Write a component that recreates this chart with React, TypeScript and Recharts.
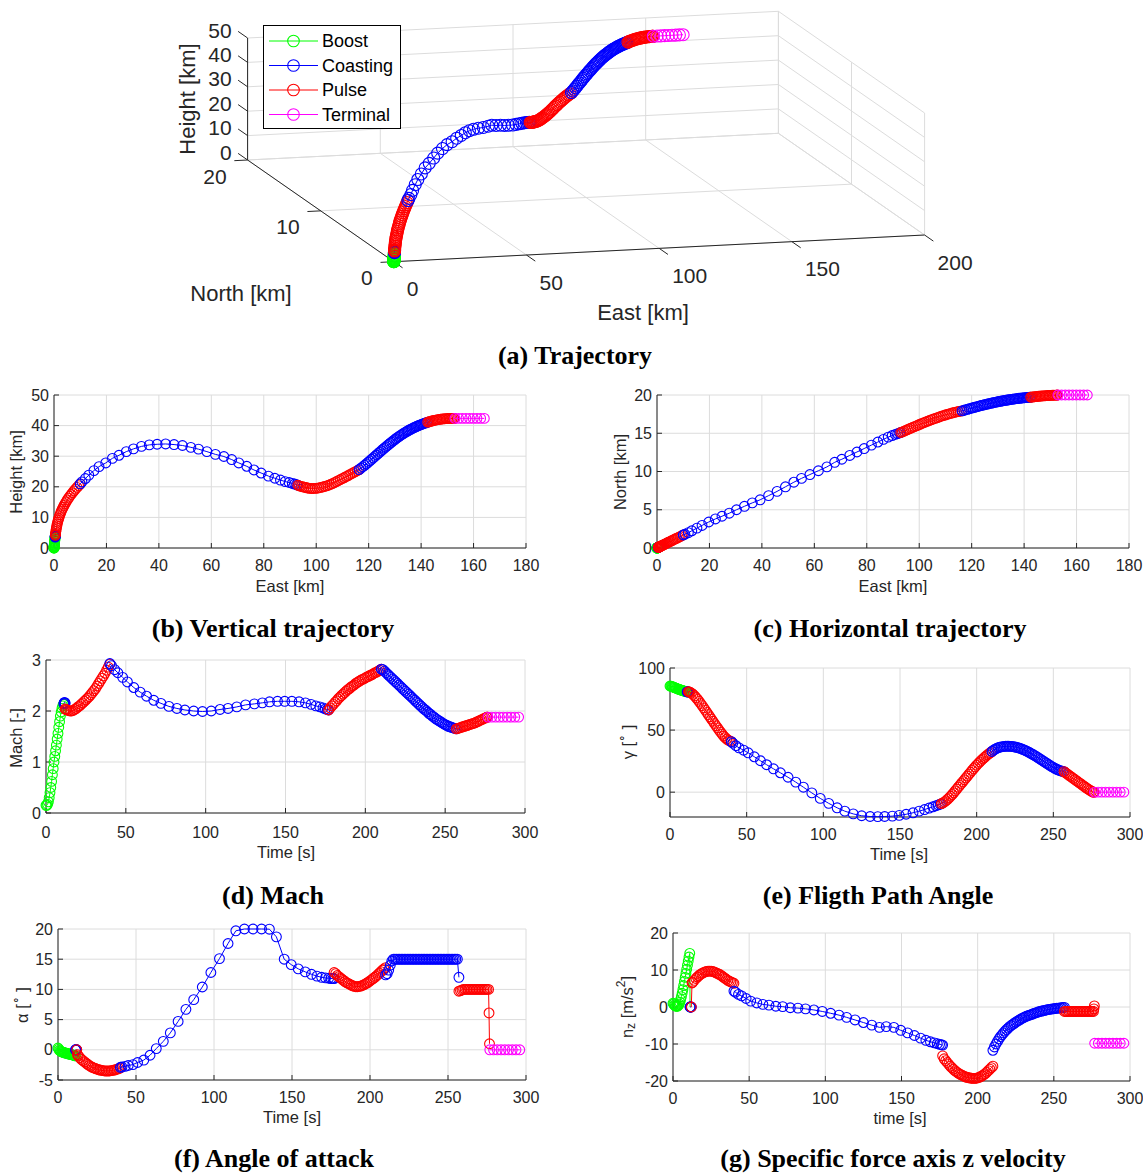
import React from 'react';
import { ScatterChart, Scatter, XAxis, YAxis, CartesianGrid } from 'recharts';

const GREEN = '#00ff00';
const BLUE = '#0000ff';
const RED = '#ff0000';
const MAGENTA = '#ff00ff';
const AXIS = '#262626';
const GRID = '#dcdcdc';
const SANS = '"Liberation Sans", Arial, Helvetica, sans-serif';
const SERIF = '"Liberation Serif", "Times New Roman", Times, serif';

// ---------------- tick labels ----------------
const eastTicks = [0, 20, 40, 60, 80, 100, 120, 140, 160, 180];
const heightTicks = [0, 10, 20, 30, 40, 50];
const northTicks = [0, 5, 10, 15, 20];
const timeTicks = [0, 50, 100, 150, 200, 250, 300];
const machTicks = [0, 1, 2, 3];
const gammaTicks = [0, 50, 100];
const alphaTicks = [-5, 0, 5, 10, 15, 20];
const nzTicks = [-20, -10, 0, 10, 20];
const eastTicks3d = [0, 50, 100, 150, 200];
const northTicks3d = [0, 10, 20];
const heightTicks3d = [0, 10, 20, 30, 40, 50];
const legendNames = ['Boost', 'Coasting', 'Pulse', 'Terminal'];
const legendColors = [GREEN, BLUE, RED, MAGENTA];

// ---------------- Boost ----------------
const boostTime = [0, 0.5, 1, 1.5, 2, 2.5, 3, 3.5, 4, 4.5, 5, 5.5, 6, 6.5, 7, 7.5, 8, 8.5, 9, 9.5, 10, 10.5, 11, 11.2];
const boostMach = [0.15, 0.15, 0.17, 0.22, 0.3, 0.4, 0.5, 0.62, 0.75, 0.87, 1.0, 1.11, 1.22, 1.33, 1.45, 1.56, 1.68, 1.79, 1.9, 1.98, 2.05, 2.1, 2.13, 2.14];
const boostGamma = [85.5, 85.3, 85.1, 84.9, 84.7, 84.5, 84.2, 84.0, 83.7, 83.5, 83.2, 83.0, 82.7, 82.5, 82.3, 82.1, 81.9, 81.7, 81.5, 81.3, 81.1, 81.0, 80.8, 80.8];
const boostAlpha = [0.3, 0.1, -0.1, -0.2, -0.3, -0.35, -0.4, -0.45, -0.5, -0.5, -0.55, -0.6, -0.6, -0.65, -0.7, -0.7, -0.75, -0.8, -0.8, -0.85, -0.9, -0.95, -1.0, -1.0];
const boostNz = [1.0, 0.8, 0.5, 0.3, 0.2, 0.2, 0.2, 0.4, 0.8, 1.3, 2.0, 2.8, 3.7, 4.7, 5.8, 6.9, 8.0, 9.1, 10.2, 11.3, 12.4, 13.5, 14.5, 0];
const boostHeight = [0, 0.01, 0.03, 0.07, 0.12, 0.18, 0.26, 0.36, 0.47, 0.59, 0.73, 0.88, 1.04, 1.22, 1.42, 1.63, 1.85, 2.1, 2.35, 2.62, 2.9, 3.2, 3.5, 3.56];
const boostEast = [0, 0, 0, 0.01, 0.01, 0.02, 0.03, 0.04, 0.06, 0.07, 0.09, 0.11, 0.13, 0.15, 0.17, 0.2, 0.22, 0.25, 0.28, 0.31, 0.35, 0.38, 0.42, 0.43];
const boostNorth = [0, 0, 0, 0, 0, 0, 0.01, 0.01, 0.01, 0.01, 0.02, 0.02, 0.02, 0.03, 0.03, 0.03, 0.04, 0.04, 0.05, 0.05, 0.06, 0.06, 0.07, 0.07];

// ---------------- Coasting 1 ----------------
const coast1Time = [11.2, 11.4, 11.6, 11.8, 12];
const coast1Mach = [2.14, 2.16, 2.17, 2.16, 2.15];
const coast1Gamma = [80.8, 80.8, 80.8, 80.8, 80.8];
const coast1Alpha = [0, 0, 0, 0, 0];
const coast1Nz = [0, 0, 0, 0, 0];
const coast1Height = [3.56, 3.7, 3.85, 4.0, 4.15];
const coast1East = [0.43, 0.45, 0.47, 0.49, 0.51];
const coast1North = [0.07, 0.07, 0.08, 0.08, 0.08];

// ---------------- Pulse 1 ----------------
const pulse1Time = [12, 12.5, 13, 14, 15, 16, 17, 18, 19, 20, 21, 22, 23, 24, 25, 26, 27, 28, 29, 30, 31, 32, 33, 34, 35, 36, 37, 38, 39, 40];
const pulse1Mach = [2.04, 2.03, 2.02, 2.01, 2.0, 2.0, 2.01, 2.03, 2.05, 2.08, 2.1, 2.13, 2.16, 2.19, 2.22, 2.25, 2.28, 2.32, 2.36, 2.4, 2.44, 2.49, 2.54, 2.59, 2.64, 2.69, 2.74, 2.8, 2.86, 2.92];
const pulse1Gamma = [81, 80.8, 80.5, 79.8, 78.8, 77.6, 76.2, 74.7, 73.1, 71.4, 69.7, 67.9, 66.1, 64.3, 62.5, 60.7, 58.9, 57.1, 55.3, 53.5, 51.7, 50, 48.3, 46.7, 45.2, 43.9, 42.8, 41.9, 41.2, 40.7];
const pulse1Alpha = [0, -0.8, -1.0, -1.3, -1.6, -1.8, -2.0, -2.2, -2.4, -2.6, -2.75, -2.9, -3.0, -3.1, -3.2, -3.3, -3.35, -3.4, -3.45, -3.5, -3.5, -3.5, -3.5, -3.45, -3.4, -3.35, -3.3, -3.2, -3.1, -3.0];
const pulse1Nz = [0, 6.5, 6.7, 7.2, 7.7, 8.1, 8.5, 8.8, 9.1, 9.3, 9.5, 9.6, 9.7, 9.7, 9.7, 9.6, 9.5, 9.3, 9.1, 8.9, 8.7, 8.4, 8.1, 7.8, 7.5, 7.2, 7.0, 6.8, 6.6, 6.4];
const pulse1Height = [4.15, 4.46, 4.77, 5.38, 5.99, 6.6, 7.2, 7.81, 8.42, 9.03, 9.64, 10.25, 10.86, 11.47, 12.08, 12.69, 13.3, 13.9, 14.5, 15.1, 15.7, 16.3, 16.89, 17.48, 18.06, 18.64, 19.22, 19.8, 20.38, 20.97];
const pulse1East = [0.51, 0.55, 0.6, 0.7, 0.81, 0.93, 1.07, 1.22, 1.39, 1.58, 1.78, 2.01, 2.26, 2.53, 2.82, 3.14, 3.47, 3.83, 4.22, 4.63, 5.07, 5.53, 6.01, 6.52, 7.05, 7.61, 8.18, 8.78, 9.39, 10.0];
const pulse1North = [0.09, 0.09, 0.1, 0.12, 0.14, 0.16, 0.18, 0.21, 0.24, 0.27, 0.3, 0.34, 0.38, 0.43, 0.48, 0.53, 0.59, 0.65, 0.72, 0.79, 0.86, 0.94, 1.02, 1.11, 1.2, 1.29, 1.39, 1.49, 1.6, 1.7];

// ---------------- Coasting 2 ----------------
const coast2Time = [40, 41, 43, 45, 48, 51, 55, 59, 63, 67.5, 72, 77, 82, 87, 92.5, 98, 103.5, 109, 114, 119.5, 125, 130.5, 135.5, 140, 145, 149.5, 154, 158.5, 162.5, 166, 169, 171.5, 173.5, 175, 176.2, 177];
const coast2Mach = [2.93, 2.89, 2.81, 2.75, 2.66, 2.57, 2.46, 2.37, 2.29, 2.21, 2.15, 2.09, 2.05, 2.02, 2.0, 1.99, 2.0, 2.03, 2.05, 2.08, 2.12, 2.14, 2.16, 2.18, 2.19, 2.19, 2.19, 2.18, 2.16, 2.13, 2.1, 2.08, 2.06, 2.04, 2.03, 2.02];
const coast2Gamma = [40.7, 39.5, 37.4, 35.7, 33.8, 31.7, 28.5, 25.3, 22.1, 18.8, 15.6, 12, 8.1, 4, -0.6, -5, -9, -12.6, -15.3, -17.5, -19, -19.6, -19.7, -19.6, -19.3, -18.7, -17.8, -16.6, -15.3, -14, -12.8, -11.8, -10.9, -10.2, -9.6, -9.2];
const coast2Alpha = [-2.9, -2.85, -2.75, -2.6, -2.45, -2.1, -1.7, -0.9, 0.2, 1.4, 2.8, 4.7, 6.7, 8.3, 10.4, 12.8, 15.1, 17.6, 19.7, 20, 20, 20, 19.97, 18.7, 15, 14.1, 13.4, 12.9, 12.5, 12.2, 12, 11.9, 11.85, 11.8, 11.8, 11.8];
const coast2Nz = [4.3, 4.0, 3.4, 3.0, 2.3, 1.6, 1.1, 0.7, 0.5, 0.2, 0.1, -0.2, -0.3, -0.5, -0.8, -1.2, -1.7, -2.2, -2.8, -3.5, -4.2, -4.9, -5.5, -5.3, -5.5, -6.3, -7.0, -7.7, -8.4, -9.0, -9.4, -9.7, -9.9, -10.1, -10.2, -10.3];
const coast2Height = [20.97, 21.6, 22.7, 23.8, 25.3, 26.6, 27.8, 29.3, 30.3, 31.5, 32.4, 33.2, 33.7, 33.9, 34.0, 33.8, 33.5, 32.9, 32.3, 31.5, 30.6, 29.9, 28.9, 27.8, 26.7, 25.5, 24.5, 23.5, 22.8, 22.2, 21.7, 21.4, 21.1, 20.9, 20.7, 20.5];
const coast2East = [10.0, 10.65, 11.96, 13.27, 15.23, 17.18, 19.74, 22.27, 24.78, 27.57, 30.32, 33.35, 36.34, 39.33, 42.57, 45.79, 48.99, 52.19, 55.1, 58.31, 61.54, 64.79, 67.77, 70.48, 73.51, 76.25, 79.0, 81.77, 84.22, 86.36, 88.17, 89.68, 90.88, 91.78, 92.5, 92.98];
const coast2North = [1.7, 1.8, 2.0, 2.25, 2.6, 2.95, 3.4, 3.8, 4.15, 4.55, 5.0, 5.45, 5.9, 6.3, 6.85, 7.4, 8.0, 8.6, 9.1, 9.6, 10.1, 10.6, 11.2, 11.6, 12.1, 12.55, 13.0, 13.45, 13.85, 14.2, 14.5, 14.7, 14.85, 14.95, 15.05, 15.1];

// ---------------- Pulse 2 ----------------
const pulse2Time = [177, 178, 179, 180, 181, 182, 183, 184, 185, 186, 187, 188, 189, 190, 191, 192, 193, 194, 195, 196, 197, 198, 199, 200, 201, 202, 203, 204, 205, 206, 207, 208, 209, 210];
const pulse2Mach = [2.02, 2.06, 2.1, 2.13, 2.17, 2.2, 2.24, 2.27, 2.3, 2.33, 2.36, 2.39, 2.42, 2.44, 2.47, 2.49, 2.51, 2.54, 2.56, 2.58, 2.6, 2.62, 2.63, 2.65, 2.67, 2.68, 2.7, 2.71, 2.73, 2.75, 2.76, 2.78, 2.8, 2.82];
const pulse2Gamma = [-9.2, -8.6, -7.8, -6.9, -5.8, -4.6, -3.3, -1.9, -0.5, 1.0, 2.5, 4.0, 5.5, 7.0, 8.5, 10, 11.5, 13, 14.5, 16, 17.5, 19, 20.4, 21.8, 23.1, 24.4, 25.6, 26.8, 27.9, 29, 30, 31, 31.9, 32.8];
const pulse2Alpha = [12.8, 12.6, 12.3, 12.1, 11.9, 11.7, 11.5, 11.3, 11.1, 11.0, 10.85, 10.7, 10.6, 10.5, 10.45, 10.45, 10.5, 10.55, 10.65, 10.75, 10.9, 11.05, 11.2, 11.4, 11.6, 11.8, 12.0, 12.2, 12.45, 12.7, 12.95, 13.2, 13.4, 13.6];
const pulse2Nz = [-13.2, -14.0, -14.5, -15, -15.5, -16, -16.4, -16.8, -17.2, -17.5, -17.8, -18.1, -18.3, -18.5, -18.7, -18.9, -19, -19.1, -19.2, -19.25, -19.3, -19.3, -19.25, -19.15, -19.0, -18.8, -18.6, -18.3, -18.0, -17.6, -17.2, -16.8, -16.4, -16.0];
const pulse2Height = [20.5, 20.3, 20.15, 20.0, 19.85, 19.75, 19.6, 19.5, 19.45, 19.45, 19.5, 19.55, 19.65, 19.8, 19.95, 20.1, 20.3, 20.5, 20.75, 21.05, 21.35, 21.65, 22.0, 22.3, 22.65, 22.95, 23.3, 23.6, 23.95, 24.3, 24.6, 24.95, 25.25, 25.6];
const pulse2East = [92.98, 93.59, 94.2, 94.83, 95.47, 96.12, 96.79, 97.47, 98.16, 98.86, 99.57, 100.28, 101.0, 101.73, 102.46, 103.2, 103.94, 104.68, 105.42, 106.16, 106.9, 107.64, 108.38, 109.12, 109.86, 110.59, 111.32, 112.05, 112.77, 113.49, 114.21, 114.92, 115.63, 116.34];
const pulse2North = [15.1, 15.18, 15.27, 15.37, 15.46, 15.56, 15.66, 15.76, 15.86, 15.97, 16.07, 16.17, 16.28, 16.37, 16.47, 16.57, 16.67, 16.77, 16.86, 16.95, 17.04, 17.13, 17.22, 17.3, 17.38, 17.46, 17.53, 17.6, 17.67, 17.73, 17.79, 17.84, 17.89, 17.93];

// ---------------- Coasting 3 ----------------
const coast3Time = [210, 211, 212, 213, 214, 215, 216, 217, 218, 219, 220, 221, 222, 223, 224, 225, 226, 227, 228, 229, 230, 231, 232, 233, 234, 235, 236, 237, 238, 239, 240, 241, 242, 243, 244, 245, 246, 247, 248, 249, 250, 251, 252, 253, 254, 255, 256, 257];
const coast3Mach = [2.82, 2.81, 2.78, 2.75, 2.72, 2.69, 2.66, 2.63, 2.6, 2.57, 2.54, 2.51, 2.48, 2.45, 2.42, 2.39, 2.36, 2.33, 2.3, 2.27, 2.24, 2.21, 2.18, 2.15, 2.12, 2.09, 2.06, 2.03, 2.01, 1.98, 1.95, 1.93, 1.9, 1.88, 1.85, 1.83, 1.81, 1.79, 1.77, 1.75, 1.73, 1.72, 1.7, 1.69, 1.68, 1.67, 1.66, 1.65];
const coast3Gamma = [32.8, 33.8, 34.6, 35.3, 35.8, 36.2, 36.5, 36.7, 36.9, 37.0, 37.0, 37.0, 36.9, 36.8, 36.6, 36.4, 36.1, 35.8, 35.4, 35.0, 34.5, 34.0, 33.4, 32.8, 32.2, 31.5, 30.8, 30.1, 29.4, 28.6, 27.8, 27.0, 26.2, 25.4, 24.6, 23.8, 23.0, 22.2, 21.4, 20.6, 19.9, 19.2, 18.6, 18.0, 17.5, 17.1, 16.8, 16.5];
const coast3Alpha = [12.4, 12.6, 13.2, 14.0, 14.7,
  15, 15, 15, 15, 15, 15, 15, 15, 15, 15,
  15, 15, 15, 15, 15, 15, 15, 15, 15, 15,
  15, 15, 15, 15, 15, 15, 15, 15, 15, 15,
  15, 15, 15, 15, 15, 15, 15, 15, 15, 15,
  15, 15, 12.0];
const coast3Nz = [-11.7, -10.8, -10.0, -9.3, -8.6, -8.0, -7.5, -7.0, -6.5, -6.1, -5.7, -5.3, -5.0, -4.7, -4.4, -4.1, -3.85, -3.6, -3.35, -3.1, -2.9, -2.7, -2.5, -2.35, -2.2, -2.05, -1.9, -1.75, -1.6, -1.45, -1.3, -1.2, -1.1, -1.0, -0.9, -0.8, -0.72, -0.65, -0.58, -0.52, -0.46, -0.4, -0.35, -0.3, -0.25, -0.2, -0.15, -0.1];
const coast3Height = [25.6, 26.07, 26.55, 27.03, 27.52, 28.01, 28.5, 28.98, 29.46, 29.93, 30.4, 30.86, 31.31, 31.76, 32.2, 32.63, 33.05, 33.46, 33.86, 34.25, 34.63, 35.0, 35.36, 35.71, 36.05, 36.38, 36.7, 37.01, 37.3, 37.59, 37.87, 38.14, 38.39, 38.63, 38.86, 39.08, 39.29, 39.49, 39.69, 39.87, 40.05, 40.22, 40.38, 40.54, 40.69, 40.84, 40.98, 41.12];
const coast3East = [116.34, 117.05, 117.75, 118.44, 119.12, 119.79, 120.45, 121.1, 121.74, 122.37, 122.99, 123.6, 124.2, 124.8, 125.39, 125.97, 126.54, 127.11, 127.67, 128.22, 128.77, 129.32, 129.86, 130.4, 130.94, 131.48, 132.01, 132.54, 133.06, 133.58, 134.1, 134.62, 135.13, 135.64, 136.15, 136.66, 137.16, 137.66, 138.16, 138.65, 139.14, 139.63, 140.12, 140.61, 141.09, 141.57, 142.05, 142.53];
const coast3North = [17.93, 18.0, 18.07, 18.13, 18.2, 18.27, 18.33, 18.39, 18.45, 18.51, 18.57, 18.62, 18.67, 18.72, 18.77, 18.82, 18.86, 18.91, 18.95, 18.99, 19.03, 19.07, 19.11, 19.15, 19.18, 19.22, 19.25, 19.28, 19.31, 19.34, 19.37, 19.4, 19.43, 19.46, 19.48, 19.5, 19.53, 19.55, 19.57, 19.59, 19.61, 19.63, 19.64, 19.66, 19.67, 19.69, 19.7, 19.71];

// ---------------- Pulse 3 ----------------
const pulse3Time = [257, 258, 259, 260, 261, 262, 263, 264, 265, 266, 267, 268, 269, 270, 271, 272, 273, 274, 275, 276, 276.3, 276.6];
const pulse3Mach = [1.65, 1.66, 1.67, 1.68, 1.69, 1.7, 1.71, 1.72, 1.73, 1.74, 1.75, 1.76, 1.77, 1.79, 1.8, 1.82, 1.83, 1.85, 1.86, 1.88, 1.88, 1.88];
const pulse3Gamma = [16.5, 15.6, 14.7, 13.8, 12.9, 12.0, 11.1, 10.2, 9.3, 8.4, 7.5, 6.6, 5.7, 4.8, 3.9, 3.0, 2.2, 1.4, 0.7, 0, 0, 0];
const pulse3Alpha = [9.7, 9.8, 9.9, 10, 10, 10, 10, 10, 10, 10, 10, 10, 10, 10, 10, 10, 10, 10, 10, 10, 6.1, 1.0];
const pulse3Nz = [-1.2, -1.2, -1.2, -1.2, -1.2, -1.2, -1.2, -1.2, -1.2, -1.2, -1.2, -1.2, -1.2, -1.2, -1.2, -1.2, -1.2, -1.2, -1.2, -1.2, -0.5, 0.3];
const pulse3Height = [41.12, 41.25, 41.37, 41.48, 41.59, 41.69, 41.79, 41.88, 41.96, 42.03, 42.1, 42.16, 42.21, 42.25, 42.29, 42.32, 42.34, 42.35, 42.36, 42.36, 42.36, 42.36];
const pulse3East = [142.53, 143.0, 143.48, 143.96, 144.45, 144.94, 145.44, 145.94, 146.45, 146.96, 147.48, 148.0, 148.53, 149.06, 149.6, 150.14, 150.69, 151.24, 151.8, 152.36, 152.53, 152.7];
const pulse3North = [19.71, 19.73, 19.75, 19.77, 19.79, 19.81, 19.83, 19.85, 19.86, 19.88, 19.89, 19.91, 19.92, 19.93, 19.94, 19.95, 19.96, 19.97, 19.98, 19.99, 19.99, 20.0];

// ---------------- Terminal ----------------
const terminalTime = [276.8, 279.2, 281.6, 284, 286.4, 288.8, 291.2, 293.6, 296];
const terminalMach = [1.88, 1.88, 1.88, 1.88, 1.88, 1.88, 1.88, 1.88, 1.88];
const terminalGamma = [0, 0, 0, 0, 0, 0, 0, 0, 0];
const terminalAlpha = [0, 0, 0, 0, 0, 0, 0, 0, 0];
const terminalNz = [-9.8, -9.8, -9.8, -9.8, -9.8, -9.8, -9.8, -9.8, -9.8];
const terminalHeight = [42.36, 42.36, 42.36, 42.36, 42.36, 42.36, 42.36, 42.36, 42.36];
const terminalEast = [152.9, 154.3, 155.7, 157.1, 158.5, 159.9, 161.3, 162.7, 164.1];
const terminalNorth = [20, 20, 20, 20, 20, 20, 20, 20, 20];

type VarKey = 'time' | 'east' | 'north' | 'height' | 'mach' | 'gamma' | 'alpha' | 'nz';
type Phase = { id: string; color: string } & Record<VarKey, number[]>;

const phases: Phase[] = [
  { id: 'boost', color: GREEN, time: boostTime, east: boostEast, north: boostNorth, height: boostHeight, mach: boostMach, gamma: boostGamma, alpha: boostAlpha, nz: boostNz },
  { id: 'coast1', color: BLUE, time: coast1Time, east: coast1East, north: coast1North, height: coast1Height, mach: coast1Mach, gamma: coast1Gamma, alpha: coast1Alpha, nz: coast1Nz },
  { id: 'pulse1', color: RED, time: pulse1Time, east: pulse1East, north: pulse1North, height: pulse1Height, mach: pulse1Mach, gamma: pulse1Gamma, alpha: pulse1Alpha, nz: pulse1Nz },
  { id: 'coast2', color: BLUE, time: coast2Time, east: coast2East, north: coast2North, height: coast2Height, mach: coast2Mach, gamma: coast2Gamma, alpha: coast2Alpha, nz: coast2Nz },
  { id: 'pulse2', color: RED, time: pulse2Time, east: pulse2East, north: pulse2North, height: pulse2Height, mach: pulse2Mach, gamma: pulse2Gamma, alpha: pulse2Alpha, nz: pulse2Nz },
  { id: 'coast3', color: BLUE, time: coast3Time, east: coast3East, north: coast3North, height: coast3Height, mach: coast3Mach, gamma: coast3Gamma, alpha: coast3Alpha, nz: coast3Nz },
  { id: 'pulse3', color: RED, time: pulse3Time, east: pulse3East, north: pulse3North, height: pulse3Height, mach: pulse3Mach, gamma: pulse3Gamma, alpha: pulse3Alpha, nz: pulse3Nz },
  { id: 'terminal', color: MAGENTA, time: terminalTime, east: terminalEast, north: terminalNorth, height: terminalHeight, mach: terminalMach, gamma: terminalGamma, alpha: terminalAlpha, nz: terminalNz },
];

const ring = (color: string, r: number) => (props: any) => {
  if (props == null || props.cx == null || props.cy == null) return <g />;
  return <circle cx={props.cx} cy={props.cy} r={r} fill="none" stroke={color} strokeWidth={1.1} />;
};
const noShape = () => <g />;

// ---------------- 2D panel ----------------
type PanelProps = {
  box: [number, number, number, number];
  xKey: VarKey;
  yKey: VarKey;
  xDomain: [number, number];
  yDomain: [number, number];
  xTicks: number[];
  yTicks: number[];
  xGap?: number;
};

function Panel({ box, xKey, yKey, xDomain, yDomain, xTicks, yTicks, xGap = 17 }: PanelProps) {
  const yw = 60, xh = 40, mt = 14, mr = 20;
  const [x0, y0, x1, y1] = box;
  const width = x1 - x0 + yw + mr;
  const height = y1 - y0 + mt + xh;
  const tickStyle = { fill: AXIS, fontSize: 16, fontFamily: SANS };
  return (
    <div style={{ position: 'absolute', left: x0 - yw, top: y0 - mt, width, height }}>
      <ScatterChart width={width} height={height} margin={{ top: mt, right: mr, bottom: 0, left: 0 }}>
        <CartesianGrid stroke={GRID} strokeWidth={1} />
        <XAxis type="number" dataKey="x" domain={xDomain} ticks={xTicks} interval={0} height={xh}
          stroke={AXIS} tickSize={-5} tickMargin={xGap} tick={tickStyle} />
        <YAxis type="number" dataKey="y" domain={yDomain} ticks={yTicks} interval={0} width={yw}
          stroke={AXIS} tickSize={-5} tickMargin={10} tick={tickStyle} />
        {phases.map((p) => (
          <Scatter key={p.id}
            data={p[xKey].map((v, i) => ({ x: v, y: p[yKey][i] }))}
            isAnimationActive={false}
            fill="none"
            line={{ stroke: p.color, strokeWidth: 1 }}
            shape={ring(p.color, 4.9)} />
        ))}
      </ScatterChart>
    </div>
  );
}

// ---------------- 3D panel ----------------
const view3d = { ox: 393.8, oy: 261.7, ex: 2.654, ey: -0.1335, nx: -7.31, ny: -5.085, hz: -2.44 };
const project = (e: number, n: number, h: number) => ({
  x: view3d.ox + e * view3d.ex + n * view3d.nx,
  y: view3d.oy + e * view3d.ey + n * view3d.ny + h * view3d.hz,
});

function Trajectory3D() {
  const W = 1143, H = 345;
  const eMax = eastTicks3d[eastTicks3d.length - 1];
  const nMax = northTicks3d[northTicks3d.length - 1];
  const hMax = heightTicks3d[heightTicks3d.length - 1];
  type Seg = { a: [number, number, number]; b: [number, number, number]; color: string };
  const segs: Seg[] = [];
  heightTicks3d.forEach((h) => {
    segs.push({ a: [0, nMax, h], b: [eMax, nMax, h], color: GRID });
    segs.push({ a: [eMax, 0, h], b: [eMax, nMax, h], color: GRID });
  });
  eastTicks3d.forEach((e) => {
    segs.push({ a: [e, nMax, 0], b: [e, nMax, hMax], color: GRID });
    segs.push({ a: [e, 0, 0], b: [e, nMax, 0], color: GRID });
  });
  northTicks3d.forEach((n) => {
    segs.push({ a: [eMax, n, 0], b: [eMax, n, hMax], color: GRID });
    segs.push({ a: [0, n, 0], b: [eMax, n, 0], color: GRID });
  });
  segs.push({ a: [0, 0, 0], b: [eMax, 0, 0], color: AXIS });
  segs.push({ a: [0, 0, 0], b: [0, nMax, 0], color: AXIS });
  segs.push({ a: [0, nMax, 0], b: [0, nMax, hMax], color: AXIS });
  eastTicks3d.forEach((e) => segs.push({ a: [e, 0, 0], b: [e, -1.2, 0], color: AXIS }));
  northTicks3d.forEach((n) => segs.push({ a: [0, n, 0], b: [-5, n, 0], color: AXIS }));
  heightTicks3d.forEach((h) => segs.push({ a: [0, nMax, h], b: [0, nMax + 1.3, h], color: AXIS }));

  const labels: any[] = [];
  eastTicks3d.forEach((e) => { const p = project(e, 0, 0); labels.push({ x: p.x, y: p.y, label: String(e), dx: 13, dy: 27, anchor: 'start' }); });
  northTicks3d.forEach((n) => { const p = project(0, n, 0); labels.push({ x: p.x, y: p.y, label: String(n), dx: -21, dy: 16, anchor: 'end' }); });
  heightTicks3d.forEach((h) => { const p = project(0, nMax, h); labels.push({ x: p.x, y: p.y, label: String(h), dx: -16, dy: -8, anchor: 'end' }); });

  const textShape = (props: any) => {
    const d = props.payload || {};
    if (props.cx == null) return <g />;
    return (
      <text x={props.cx + d.dx} y={props.cy + d.dy} textAnchor={d.anchor} dominantBaseline="central"
        fontSize={21} fill={AXIS} fontFamily={SANS}>{d.label}</text>
    );
  };

  return (
    <div style={{ position: 'absolute', left: 0, top: 0, width: W, height: H }}>
      <ScatterChart width={W} height={H} margin={{ top: 0, right: 0, bottom: 0, left: 0 }}>
        <XAxis type="number" dataKey="x" domain={[0, W]} hide />
        <YAxis type="number" dataKey="y" domain={[0, H]} reversed hide />
        {segs.map((s, i) => (
          <Scatter key={'seg' + i} data={[project(...s.a), project(...s.b)]} isAnimationActive={false}
            fill="none" line={{ stroke: s.color, strokeWidth: 1 }} shape={noShape} />
        ))}
        {phases.map((p) => (
          <Scatter key={'p3' + p.id}
            data={p.time.map((_, i) => project(p.east[i], p.north[i], p.height[i]))}
            isAnimationActive={false} fill="none"
            line={{ stroke: p.color, strokeWidth: 1 }}
            shape={ring(p.color, 6)} />
        ))}
        <Scatter data={labels} isAnimationActive={false} fill="none" shape={textShape} />
      </ScatterChart>
    </div>
  );
}

// ---------------- text overlay ----------------
function Overlay() {
  const lab: any = { fill: AXIS, fontFamily: SANS, fontSize: 16.5, textAnchor: 'middle', dominantBaseline: 'central' };
  const lab3: any = { ...lab, fontSize: 22 };
  const cap: any = { fill: '#000', fontFamily: SERIF, fontSize: 26, fontWeight: 'bold', textAnchor: 'middle', dominantBaseline: 'central' };
  const rot = (x: number, y: number) => `rotate(-90 ${x} ${y})`;
  return (
    <svg width={1143} height={1174} style={{ position: 'absolute', left: 0, top: 0, pointerEvents: 'none' }}>
      {/* 3D axis titles */}
      <text x={187} y={99} transform={rot(187, 99)} {...lab3}>Height [km]</text>
      <text x={241} y={293} {...lab3}>North [km]</text>
      <text x={643} y={312} {...lab3}>East [km]</text>
      {/* legend */}
      <rect x={263.5} y={25.5} width={137} height={103} fill="#fff" stroke="#000" strokeWidth={1} />
      {legendNames.map((name, i) => {
        const y = 41 + i * 24.5;
        return (
          <g key={name}>
            <line x1={269} x2={318} y1={y} y2={y} stroke={legendColors[i]} strokeWidth={1} />
            <circle cx={293.5} cy={y} r={5.8} fill="none" stroke={legendColors[i]} strokeWidth={1.1} />
            <text x={322} y={y} fontSize={18} fontFamily={SANS} fill="#000" dominantBaseline="central">{name}</text>
          </g>
        );
      })}
      {/* 2D axis titles */}
      <text x={16} y={472} transform={rot(16, 472)} {...lab}>Height [km]</text>
      <text x={290} y={586} {...lab}>East [km]</text>
      <text x={620} y={472} transform={rot(620, 472)} {...lab}>North [km]</text>
      <text x={893} y={586} {...lab}>East [km]</text>
      <text x={16} y={738} transform={rot(16, 738)} {...lab}>Mach [-]</text>
      <text x={286} y={852} {...lab}>Time [s]</text>
      <text x={628} y={742} transform={rot(628, 742)} {...lab}>γ [<tspan dy={-6} fontSize={12}>∘</tspan><tspan dy={6}> ]</tspan></text>
      <text x={899} y={854} {...lab}>Time [s]</text>
      <text x={22} y={1005} transform={rot(22, 1005)} {...lab}>α [<tspan dy={-6} fontSize={12}>∘</tspan><tspan dy={6}> ]</tspan></text>
      <text x={292} y={1117} {...lab}>Time [s]</text>
      <text x={627} y={1007} transform={rot(627, 1007)} {...lab}>n<tspan dy={4} fontSize={12}>z</tspan><tspan dy={-4}> [m/s</tspan><tspan dy={-6} fontSize={12}>2</tspan><tspan dy={6}>]</tspan></text>
      <text x={900} y={1118} {...lab}>time [s]</text>
      {/* captions */}
      <text x={575} y={355} {...cap}>(a) Trajectory</text>
      <text x={273} y={628} {...cap}>(b) Vertical trajectory</text>
      <text x={890} y={628} {...cap}>(c) Horizontal trajectory</text>
      <text x={273} y={895} {...cap}>(d) Mach</text>
      <text x={878} y={895} {...cap}>(e) Fligth Path Angle</text>
      <text x={274} y={1158} {...cap}>(f) Angle of attack</text>
      <text x={893} y={1158} {...cap}>(g) Specific force axis z velocity</text>
    </svg>
  );
}

export default function App() {
  return (
    <div style={{ position: 'absolute', left: 0, top: 0, width: 1143, height: 1174, background: '#fff', overflow: 'hidden', fontFamily: SANS }}>
      <Trajectory3D />
      <Panel box={[54, 395, 526, 548]} xKey="east" yKey="height" xDomain={[0, 180]} yDomain={[0, 50]} xTicks={eastTicks} yTicks={heightTicks} />
      <Panel box={[657, 395, 1129, 548]} xKey="east" yKey="north" xDomain={[0, 180]} yDomain={[0, 20]} xTicks={eastTicks} yTicks={northTicks} />
      <Panel box={[46, 660, 525, 813]} xKey="time" yKey="mach" xDomain={[0, 300]} yDomain={[0, 3]} xTicks={timeTicks} yTicks={machTicks} xGap={19} />
      <Panel box={[670, 668, 1130, 817]} xKey="time" yKey="gamma" xDomain={[0, 300]} yDomain={[-20, 100]} xTicks={timeTicks} yTicks={gammaTicks} />
      <Panel box={[58, 929, 526, 1080]} xKey="time" yKey="alpha" xDomain={[0, 300]} yDomain={[-5, 20]} xTicks={timeTicks} yTicks={alphaTicks} />
      <Panel box={[673, 933, 1130, 1081]} xKey="time" yKey="nz" xDomain={[0, 300]} yDomain={[-20, 20]} xTicks={timeTicks} yTicks={nzTicks} />
      <Overlay />
    </div>
  );
}
